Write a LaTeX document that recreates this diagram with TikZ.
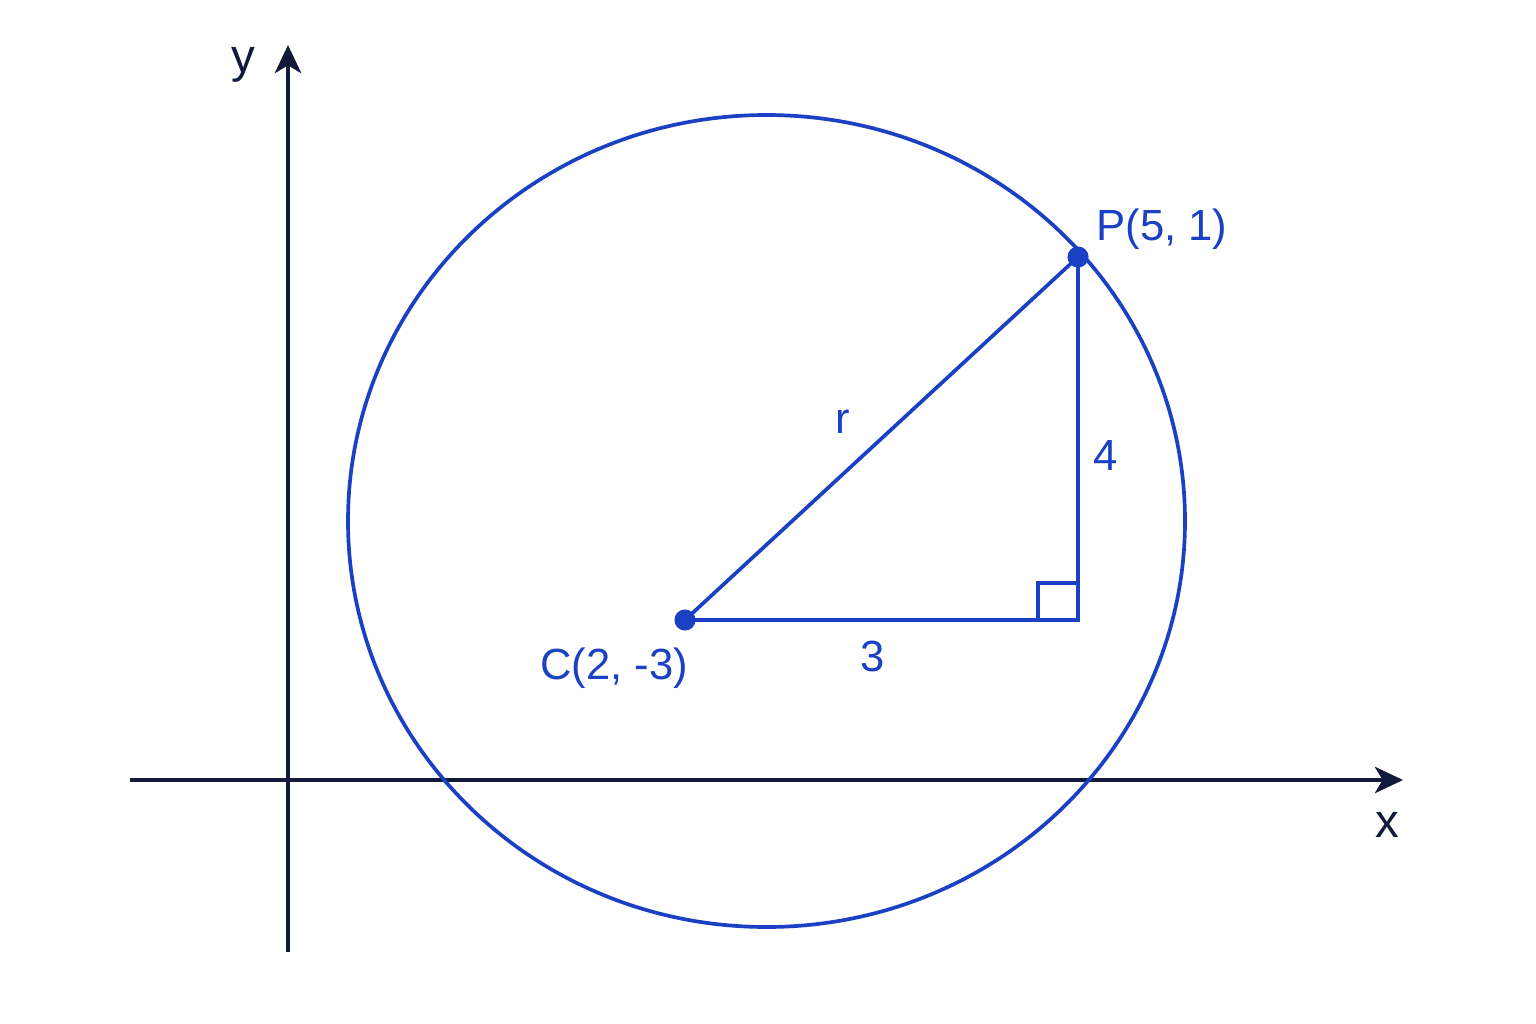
\documentclass[tikz,border=0pt]{standalone}
\usepackage{fontspec}
\setmainfont{Liberation Sans}
\usetikzlibrary{arrows.meta}
\definecolor{cblue}{HTML}{1A40C4}
\definecolor{axisc}{HTML}{111A3A}
\tikzset{
  axisline/.style={draw=axisc, line width=1pt, -{Stealth[length=8pt,width=7.5pt,inset=2.2pt]}},
  bluel/.style={draw=cblue, line width=1.05pt},
  dot/.style={circle, fill=cblue, inner sep=0pt, minimum size=6pt},
  lbl/.style={text=cblue, font=\fontsize{12.4pt}{14pt}\selectfont, inner sep=0pt},
  axl/.style={text=axisc, font=\fontsize{13.5pt}{15pt}\selectfont, inner sep=0pt},
}
\begin{document}
\begin{tikzpicture}[x=0.01cm,y=-0.01cm]
\useasboundingbox (0,0) rectangle (1536,1024);
\fill[white] (0,0) rectangle (1536,1024);
% axes
\coordinate (xs) at (130,780);
\coordinate (xe) at (1403,780);
\coordinate (ys) at (288,952);
\coordinate (ye) at (288,45);
\draw[axisline] (xs) -- (xe);
\draw[axisline] (ys) -- (ye);
\node[axl] (ylab) at (243,65) {y};
\node[axl] (xlab) at (1387,825) {x};
% circle
\coordinate (O) at (766.5,521);
\draw[bluel] (O) ellipse [x radius=418.5, y radius=406];
% points
\coordinate (C) at (685,620);
\coordinate (P) at (1078,257);
\coordinate (R) at (1078,620);
\draw[bluel] (C) -- (R) -- (P) -- cycle;
\draw[bluel] (1038,620) -- (1038,583) -- (1078,583);
\node[dot] (Cd) at (C) {};
\node[dot] (Pd) at (P) {};
\node[lbl] (Clab) at (614,668) {C(2, -3)};
\node[lbl] (Plab) at (1162,229) {P(5, 1)};
\node[lbl] (rlab) at (843,422) {r};
\node[lbl] (flab) at (1106,455) {4};
\node[lbl] (tlab) at (873,656) {3};
\end{tikzpicture}
\end{document}
